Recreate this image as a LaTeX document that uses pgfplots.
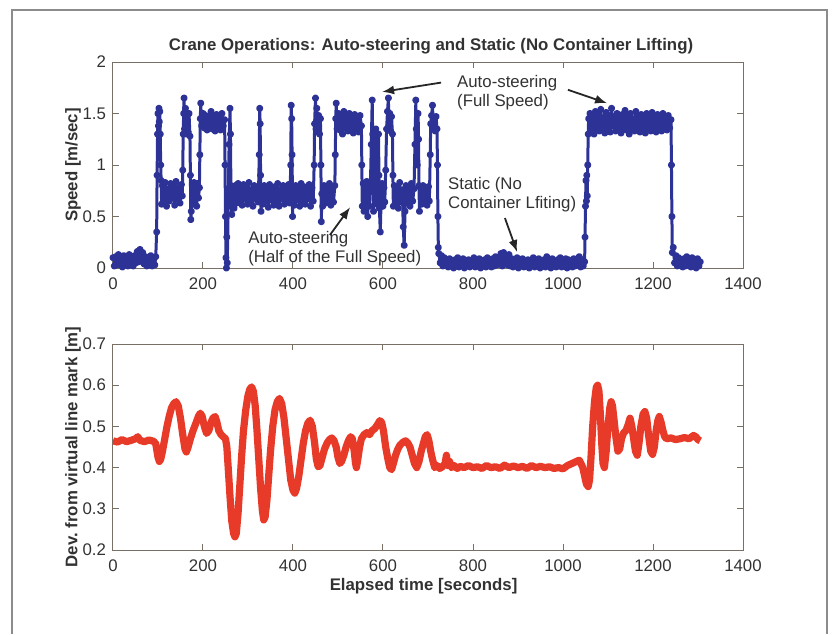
\documentclass[border=0pt]{standalone}
\usepackage{pgfplots}
\pgfplotsset{compat=1.18}
\usepackage{fontspec}
\setmainfont{Liberation Sans}
\usetikzlibrary{arrows.meta}
\definecolor{dotblue}{RGB}{44,50,150}
\definecolor{devred}{RGB}{232,58,40}
\definecolor{axgray}{RGB}{120,112,100}
\definecolor{txtgray}{RGB}{50,50,50}
\definecolor{framegray}{RGB}{140,140,140}
\pgfplotsset{craneax/.style={
  scale only axis, width=315pt, height=103pt,
  xmin=0, xmax=1400, xtick={0,200,...,1400},
  axis line style={axgray, line width=0.5pt},
  tick style={axgray, line width=0.5pt},
  major tick length=3pt, tick align=inside,
  ticklabel style={font=\fontsize{8.4}{10}\selectfont, text=txtgray},
  xticklabel style={yshift=-1.5pt},
  label style={font=\bfseries\fontsize{8.4}{10}\selectfont, text=txtgray},
  /pgf/number format/assume math mode=true,
  /pgf/number format/1000 sep={},
  anchor=south west}}
\begin{document}
\begin{tikzpicture}
% page frame
\draw[framegray, line width=0.6pt] (6pt,0pt) -- (6pt,312pt) -- (413.5pt,312pt) -- (413.5pt,0pt);
\node[font=\bfseries\fontsize{8.4}{10}\selectfont, text=txtgray] at (215.5pt,294pt) {Crane Operations: Auto-steering and Static (No Container Lifting)};
% ---------------- top axis ----------------
\begin{axis}[craneax, at={(56.5pt,183pt)},
  ymin=0, ymax=2, ytick={0,0.5,1,1.5,2}, yticklabels={0,0.5,1,1.5,2},
  ylabel={Speed [m/sec]},
  ylabel style={at={(axis description cs:-0.0635,0.5)}, anchor=center}]
\addplot[dotblue, line width=1.5pt, line join=round, mark=*, mark size=1pt] coordinates {
(0,0.10)(3,0.02)(6,0.11)(9,0.03)(12,0.13)(15,0.04)(18,0.09)(21,0.01)(24,0.12)(27,0.05)(30,0.10)(33,0.02)(36,0.13)(39,0.03)(42,0.08)(45,0.02)(48,0.12)(51,0.05)(54,0.16)(57,0.06)(60,0.18)(63,0.07)(66,0.15)(69,0.04)(72,0.11)(75,0.02)(78,0.10)(81,0.03)(84,0.12)(87,0.02)(90,0.09)(93,0.03)(95,0.11)
(97,0.35)(98,0.9)(99,1.3)(100,1.5)(101,1.38)(102,1.55)(103,1.42)(104,1.52)(105,1.3)(106,1.0)(107,0.85)
(108,0.62)(110,0.80)(113,0.66)(116,0.83)(119,0.60)(122,0.77)(125,0.65)(128,0.82)(131,0.68)(134,0.79)(137,0.61)(140,0.84)(143,0.67)(146,0.78)(149,0.63)(152,0.81)(154,0.70)
(155,0.95)(156,1.3)(157,1.5)(158,1.65)(159,1.35)(161,1.55)(163,1.3)(165,1.48)(167,1.32)(169,1.5)(171,1.28)
(172,0.9)(173,0.47)(174,0.55)(176,0.80)(178,0.62)(180,0.83)(182,0.66)(184,0.78)(186,0.60)(188,0.82)(190,0.68)(192,0.78)
(193,1.1)(194,1.45)(195,1.6)(197,1.38)(200,1.50)(203,1.36)(206,1.48)(209,1.34)(212,1.47)(215,1.38)(218,1.52)(221,1.35)(224,1.46)(227,1.33)(230,1.49)(233,1.37)(236,1.45)(239,1.34)(242,1.50)(245,1.38)(248,1.44)
(249,1.0)(250,0.5)(251,0.1)(252,0.0)(253,0.3)(254,0.05)(256,0.6)(258,1.2)(260,1.55)(261,1.3)(262,0.8)
(264,0.52)(266,0.78)(269,0.58)(272,0.80)(275,0.63)(278,0.82)(281,0.66)(284,0.77)(287,0.61)(290,0.81)(293,0.67)(296,0.79)(299,0.62)(302,0.83)(305,0.65)(308,0.76)(311,0.60)(314,0.80)(317,0.68)(320,0.78)(323,0.64)
(325,1.1)(326,1.55)(327,1.4)(328,0.9)(329,0.55)
(330,0.76)(333,0.62)(336,0.80)(339,0.65)(342,0.78)(345,0.59)(348,0.81)(351,0.66)(354,0.77)(357,0.61)(360,0.79)(363,0.64)(366,0.82)(369,0.60)(372,0.76)(375,0.67)(378,0.80)(381,0.62)(384,0.78)(387,0.65)(390,0.81)(393,0.63)
(395,1.0)(396,1.58)(397,1.45)(398,1.1)(399,0.5)
(400,0.78)(403,0.61)(406,0.80)(409,0.66)(412,0.77)(415,0.60)(418,0.82)(421,0.64)(424,0.79)(427,0.62)(430,0.76)(433,0.67)(436,0.81)(439,0.60)(442,0.78)(445,0.65)
(447,1.0)(448,1.4)(450,1.65)(451,1.35)(453,1.55)(455,1.32)(457,1.48)(459,1.3)(461,1.45)(462,1.0)(463,0.45)
(464,0.72)(466,0.60)(469,0.80)(472,0.63)(475,0.78)(478,0.66)(481,0.82)(484,0.61)(487,0.77)(490,0.64)(493,0.80)
(494,1.1)(495,1.45)(496,1.6)(498,1.35)(501,1.50)(504,1.34)(507,1.47)(510,1.30)(513,1.52)(516,1.36)(519,1.48)(522,1.33)(525,1.50)(528,1.37)(531,1.46)(534,1.31)(537,1.49)(540,1.35)(543,1.47)(546,1.32)(549,1.48)(552,1.38)
(553,1.0)(554,0.6)(556,0.82)(558,0.55)(560,0.78)(562,0.62)(564,0.84)(566,0.50)(568,0.76)(570,0.60)(572,0.80)
(574,1.2)(576,1.63)(577,1.3)(578,0.9)(579,0.55)(580,0.78)(582,1.0)(584,1.35)(585,1.1)(586,0.62)(588,0.80)(590,1.3)(591,0.9)(592,0.58)(594,0.35)(596,0.70)(598,0.82)(600,0.60)(602,0.78)(604,0.64)(606,0.95)
(608,1.35)(610,1.52)(612,1.65)(613,1.38)(615,1.5)(617,1.33)(619,1.47)(621,1.3)(622,0.9)(623,0.6)
(625,0.80)(628,0.62)(631,0.78)(634,0.58)(637,0.83)(640,0.64)(643,0.76)(645,0.40)(647,0.22)(649,0.55)(651,0.80)(654,0.63)(657,0.79)(660,0.60)(663,0.82)(666,0.65)(669,0.77)
(671,1.2)(673,1.63)(674,1.35)(676,1.0)(678,1.5)(679,1.25)(680,0.8)(681,0.55)
(683,0.78)(686,0.62)(689,0.80)(692,0.66)(695,0.77)(698,0.61)(701,0.79)(703,0.65)
(705,1.1)(706,1.4)(708,1.48)(710,1.58)(712,1.36)(714,1.45)(716,1.33)(718,1.47)(720,1.35)(721,1.0)(722,0.5)(723,0.2)
(724,0.14)(727,0.05)(730,0.12)(733,0.02)(736,0.10)(739,0.03)(742,0.08)(745,0.01)(748,0.09)(751,0.02)(754,0.07)(757,0.00)(760,0.08)(763,0.02)(766,0.10)(769,0.01)(772,0.07)(775,0.03)(778,0.09)(781,0.00)(784,0.06)(787,0.02)(790,0.08)(793,0.01)(796,0.07)(799,0.03)
(802,0.10)(805,0.01)(808,0.06)(811,0.02)(814,0.09)(817,0.00)(820,0.07)(823,0.02)(826,0.08)(829,0.01)(832,0.10)(835,0.03)(838,0.07)(841,0.01)(844,0.09)(847,0.02)(850,0.11)(853,0.03)(856,0.09)(859,0.04)(862,0.14)(865,0.02)(868,0.15)(871,0.04)(874,0.11)(877,0.03)(880,0.13)(883,0.02)(886,0.09)(889,0.01)(892,0.08)(895,0.02)(898,0.10)
(901,0.00)(904,0.07)(907,0.02)(910,0.09)(913,0.01)(916,0.06)(919,0.02)(922,0.08)(925,0.00)(928,0.07)(931,0.03)(934,0.10)(937,0.01)(940,0.06)(943,0.02)(946,0.09)(949,0.00)(952,0.07)(955,0.02)(958,0.08)(961,0.01)(964,0.11)(967,0.02)(970,0.07)(973,0.00)(976,0.09)(979,0.02)(982,0.06)(985,0.01)(988,0.08)(991,0.03)(994,0.10)(997,0.01)
(1000,0.07)(1003,0.02)(1006,0.09)(1009,0.00)(1012,0.08)(1015,0.02)(1018,0.06)(1021,0.01)(1024,0.09)(1027,0.02)(1030,0.07)(1033,0.03)(1036,0.11)(1039,0.01)(1042,0.08)(1045,0.02)(1048,0.06)
(1049,0.3)(1050,0.6)(1051,0.85)(1052,0.65)(1053,0.9)(1054,0.7)(1055,1.0)(1056,1.3)(1057,1.45)
(1060,1.50)(1063,1.34)(1066,1.47)(1069,1.30)(1072,1.52)(1075,1.36)(1078,1.49)(1081,1.33)(1084,1.54)(1087,1.37)(1090,1.46)(1093,1.31)(1096,1.51)(1099,1.35)(1102,1.48)(1105,1.32)(1108,1.55)(1111,1.38)(1114,1.47)(1117,1.33)(1120,1.50)(1123,1.36)(1126,1.46)(1129,1.31)(1132,1.49)(1135,1.35)(1138,1.53)(1141,1.34)(1144,1.47)(1147,1.30)(1150,1.50)
(1153,1.37)(1156,1.45)(1159,1.33)(1162,1.52)(1165,1.36)(1168,1.47)(1171,1.32)(1174,1.49)(1177,1.35)(1180,1.46)(1183,1.31)(1186,1.50)(1189,1.36)(1192,1.48)(1195,1.33)(1198,1.51)(1201,1.35)(1204,1.46)(1207,1.32)(1210,1.49)(1213,1.37)(1216,1.47)(1219,1.33)(1222,1.50)(1225,1.35)(1228,1.46)(1231,1.34)(1234,1.48)(1237,1.36)(1240,1.44)
(1241,1.0)(1242,0.5)(1243,0.15)(1245,0.20)(1248,0.05)(1251,0.12)(1254,0.02)(1257,0.10)(1260,0.03)(1263,0.08)(1266,0.01)(1269,0.09)(1272,0.02)(1275,0.11)(1278,0.03)(1281,0.07)(1284,0.01)(1287,0.10)(1290,0.02)(1293,0.08)(1296,0.00)(1299,0.09)(1302,0.02)(1305,0.06)
};
\node[anchor=west, align=left, inner sep=0pt, font=\fontsize{8.4}{9.5}\selectfont, text=txtgray] at (axis cs:764,1.70) {Auto-steering\\(Full Speed)};
\node[anchor=west, align=left, inner sep=0pt, font=\fontsize{8.4}{9.5}\selectfont, text=txtgray] at (axis cs:744,0.71) {Static (No\\Container Lfiting)};
\node[anchor=west, align=left, inner sep=0pt, font=\fontsize{8.4}{9.5}\selectfont, text=txtgray] at (axis cs:300,0.19) {Auto-steering\\(Half of the Full Speed)};
\draw[-{Latex[length=6pt,width=4.5pt]}, line width=0.9pt, black!85] (axis cs:729,1.80) -- (axis cs:598,1.71);
\draw[-{Latex[length=6pt,width=4.5pt]}, line width=0.9pt, black!85] (axis cs:1011,1.73) -- (axis cs:1098,1.60);
\draw[-{Latex[length=6pt,width=4.5pt]}, line width=0.9pt, black!85] (axis cs:871,0.485) -- (axis cs:898,0.155);
\draw[-{Latex[length=6pt,width=4.5pt]}, line width=0.9pt, black!85] (axis cs:482,0.32) -- (axis cs:527,0.59);
\end{axis}
% ---------------- bottom axis ----------------
\begin{axis}[craneax, at={(56.5pt,42pt)},
  ymin=0.2, ymax=0.7, ytick={0.2,0.3,0.4,0.5,0.6,0.7}, yticklabels={0.2,0.3,0.4,0.5,0.6,0.7},
  ylabel={Dev.\ from virtual line mark [m]},
  ylabel style={at={(axis description cs:-0.0635,0.5)}, anchor=center},
  xlabel={Elapsed time [seconds]},
  xlabel style={at={(axis description cs:0.493,-0.175)}, anchor=center}]
\addplot[devred, line width=3.6pt, line join=round] coordinates {
(0,0.465)(10,0.462)(20,0.468)(30,0.463)(40,0.466)(50,0.470)(55,0.475)(60,0.466)(70,0.463)(80,0.467)(90,0.464)(95,0.458)(100,0.425)(103,0.415)(106,0.420)(110,0.44)(115,0.47)(120,0.50)(125,0.525)(130,0.545)(135,0.555)(140,0.56)(145,0.55)(150,0.52)(155,0.48)(160,0.445)(163,0.438)(167,0.45)(172,0.47)(178,0.49)(185,0.51)(190,0.525)(194,0.532)(198,0.525)
(203,0.50)(208,0.483)(213,0.49)(218,0.51)(222,0.52)(227,0.524)(231,0.51)(235,0.49)(240,0.48)(245,0.475)(250,0.47)(253,0.45)(256,0.40)(260,0.33)(264,0.27)(268,0.24)(271,0.232)(274,0.24)(278,0.29)(282,0.36)(286,0.43)(290,0.49)(295,0.54)(300,0.575)(304,0.59)(308,0.596)(312,0.585)(316,0.55)(320,0.49)(324,0.42)(328,0.35)(332,0.295)(335,0.273)(338,0.28)(342,0.32)(346,0.38)(350,0.44)(355,0.50)(360,0.54)(365,0.56)(370,0.568)(375,0.555)(380,0.52)(385,0.47)(390,0.42)(395,0.37)
(400,0.345)(404,0.338)(408,0.35)(413,0.38)(418,0.42)(423,0.46)(428,0.49)(433,0.508)(438,0.515)(443,0.50)(448,0.46)(452,0.42)(456,0.402)(460,0.405)(465,0.425)(470,0.445)(476,0.46)(481,0.468)(486,0.472)(491,0.466)(496,0.45)(500,0.425)(504,0.41)(508,0.415)(513,0.43)(518,0.45)(523,0.465)(528,0.475)(532,0.47)(536,0.44)(539,0.41)(541,0.40)(544,0.42)(548,0.45)(552,0.47)(558,0.48)(564,0.485)(570,0.48)(576,0.49)(582,0.495)(588,0.505)(593,0.514)(597,0.51)
(601,0.49)(606,0.45)(611,0.42)(615,0.40)(619,0.395)(623,0.41)(628,0.43)(633,0.445)(638,0.455)(645,0.462)(650,0.465)(655,0.46)(660,0.45)(665,0.43)(670,0.41)(675,0.40)(680,0.415)(685,0.44)(690,0.46)(694,0.475)(698,0.48)(702,0.465)(706,0.44)(710,0.42)(715,0.40)(720,0.405)(726,0.398)(732,0.402)(738,0.41)(741,0.43)(744,0.405)(748,0.415)(752,0.40)(758,0.405)(765,0.398)(772,0.403)(780,0.40)(790,0.405)
(800,0.40)(810,0.402)(820,0.398)(830,0.405)(840,0.40)(850,0.402)(860,0.398)(870,0.406)(880,0.40)(890,0.404)(900,0.40)(910,0.403)(920,0.398)(930,0.405)(940,0.40)(950,0.403)(960,0.40)(970,0.402)(980,0.398)(990,0.40)
(1000,0.397)(1010,0.405)(1020,0.41)(1030,0.415)(1036,0.418)(1040,0.41)(1044,0.40)(1048,0.38)(1052,0.36)(1056,0.354)(1059,0.37)(1062,0.42)(1066,0.50)(1070,0.56)(1074,0.595)(1077,0.60)(1080,0.585)(1083,0.53)(1086,0.46)(1089,0.41)(1092,0.40)(1096,0.44)(1100,0.50)(1104,0.545)(1107,0.56)(1110,0.55)(1114,0.51)(1118,0.47)(1122,0.44)(1126,0.445)(1130,0.47)(1135,0.485)(1140,0.49)(1145,0.505)(1149,0.52)(1153,0.50)(1157,0.47)(1161,0.44)(1165,0.43)(1169,0.46)(1173,0.50)(1178,0.53)(1182,0.536)(1186,0.52)(1190,0.48)(1195,0.44)(1199,0.432)
(1203,0.45)(1207,0.49)(1211,0.515)(1214,0.524)(1218,0.51)(1222,0.49)(1226,0.475)(1230,0.47)(1240,0.472)(1250,0.468)(1260,0.47)(1270,0.473)(1280,0.47)(1290,0.478)(1295,0.475)(1300,0.468)(1305,0.465)
};
\end{axis}
\pgfresetboundingbox
\path[use as bounding box] (0pt,0pt) rectangle (416pt,317pt);
\end{tikzpicture}
\end{document}
